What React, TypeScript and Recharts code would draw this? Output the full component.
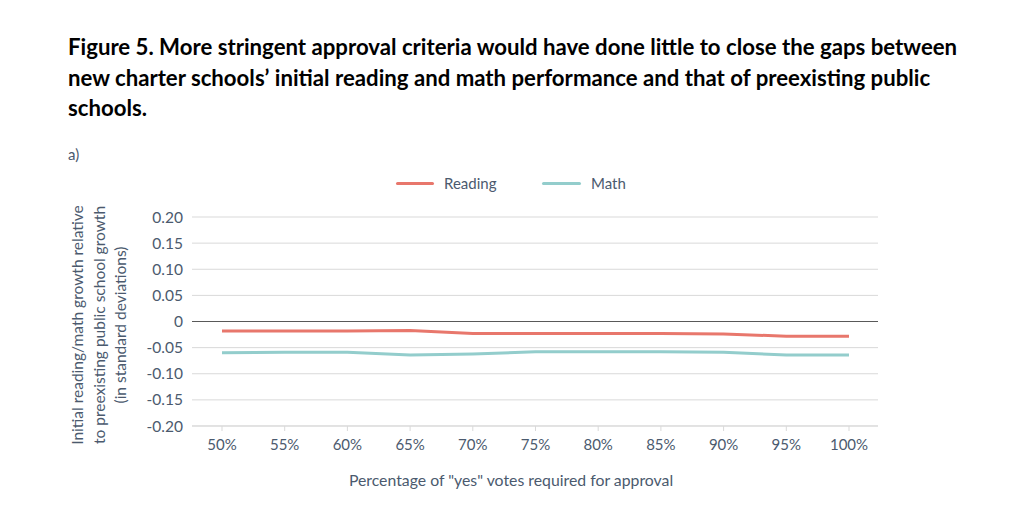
import React from "react";
import {
  LineChart,
  Line,
  XAxis,
  YAxis,
  CartesianGrid,
  ReferenceLine,
} from "recharts";

const categories = ["50%", "55%", "60%", "65%", "70%", "75%", "80%", "85%", "90%", "95%", "100%"];
const readingValues = [-0.018, -0.018, -0.018, -0.017, -0.023, -0.023, -0.023, -0.023, -0.024, -0.028, -0.028];
const mathValues = [-0.06, -0.059, -0.059, -0.064, -0.062, -0.058, -0.058, -0.058, -0.059, -0.064, -0.064];
const yTicks = [0.2, 0.15, 0.1, 0.05, 0, -0.05, -0.1, -0.15, -0.2];

const titleLines = [
  "Figure 5. More stringent approval criteria would have done little to close the gaps between",
  "new charter schools\u2019 initial reading and math performance and that of preexisting public",
  "schools.",
];
const yLabelLines = [
  "Initial reading/math growth relative",
  "to preexisting public school growth",
  "(in standard deviations)",
];
const xTitle = 'Percentage of "yes" votes required for approval';
const seriesNames = ["Reading", "Math"];

const data = categories.map((c, i) => ({
  cat: c,
  Reading: readingValues[i],
  Math: mathValues[i],
}));

const READING = "#E8776C";
const MATH = "#93CDCC";
const TEXT = "#4B5A6E";
const FONT = "Lato, 'Open Sans', sans-serif";

const fmt = (v: number) => (v === 0 ? "0" : v.toFixed(2));

const YLabel = () => {
  const cx = 99;
  const cy = 325;
  return (
    <text
      transform={`rotate(-90, ${cx}, ${cy})`}
      x={cx}
      y={cy}
      textAnchor="middle"
      fill={TEXT}
      fontFamily={FONT}
      fontSize={15.5}
    >
      {yLabelLines.map((l, i) => (
        <tspan key={i} x={cx} y={cy - 21 + i * 21.5 + 5}>
          {l}
        </tspan>
      ))}
    </text>
  );
};

export default function App() {
  return (
    <div style={{ position: "absolute", left: 0, top: 0, width: 1024, height: 530, background: "#fff" }}>
      <div
        style={{
          position: "absolute",
          left: 68,
          top: 32,
          fontFamily: FONT,
          fontWeight: 700,
          fontSize: 22.2,
          lineHeight: "30.5px",
          color: "#000",
          whiteSpace: "nowrap",
        }}
      >
        {titleLines.map((l, i) => (
          <div key={i}>{l}</div>
        ))}
      </div>
      <div
        style={{
          position: "absolute",
          left: 68,
          top: 145,
          fontFamily: FONT,
          fontSize: 15,
          color: TEXT,
        }}
      >
        a)
      </div>
      <div style={{ position: "absolute", left: 0, top: 0 }}>
        <LineChart
          width={1024}
          height={530}
          data={data}
          margin={{ top: 217, right: 146, bottom: 74, left: 132 }}
        >
          <CartesianGrid vertical={false} stroke="#D9D9D9" />
          <XAxis
            dataKey="cat"
            padding={{ left: 30, right: 29 }}
            stroke="#D9D9D9"
            tickSize={5}
            tick={{ fill: TEXT, fontFamily: FONT, fontSize: 15 }}
            tickMargin={8}
            interval={0}
            label={{
              value: xTitle,
              position: "bottom",
              offset: 19,
              dx: -24,
              fill: TEXT,
              fontFamily: FONT,
              fontSize: 15.8,
            }}
          />
          <YAxis
            width={60}
            domain={[-0.2, 0.2]}
            ticks={yTicks}
            interval={0}
            tickFormatter={fmt}
            axisLine={false}
            tickLine={false}
            tick={{ fill: TEXT, fontFamily: FONT, fontSize: 15.5 }}
            tickMargin={3}
            label={<YLabel />}
          />
          <ReferenceLine y={0} stroke="#595959" strokeWidth={1.2} />
          <Line
            type="linear"
            dataKey="Reading"
            stroke={READING}
            strokeWidth={3}
            dot={false}
            isAnimationActive={false}
          />
          <Line
            type="linear"
            dataKey="Math"
            stroke={MATH}
            strokeWidth={3}
            dot={false}
            isAnimationActive={false}
          />
        </LineChart>
      </div>
      <div style={{ position: "absolute", left: 0, top: 174, width: 1024, height: 20, fontFamily: FONT, fontSize: 15, color: TEXT }}>
        <div style={{ position: "absolute", left: 396, top: 8, width: 38, height: 3, background: READING, borderRadius: 2 }} />
        <div style={{ position: "absolute", left: 444, top: 0 }}>{seriesNames[0]}</div>
        <div style={{ position: "absolute", left: 542, top: 8, width: 39, height: 3, background: MATH, borderRadius: 2 }} />
        <div style={{ position: "absolute", left: 591, top: 0 }}>{seriesNames[1]}</div>
      </div>
    </div>
  );
}
